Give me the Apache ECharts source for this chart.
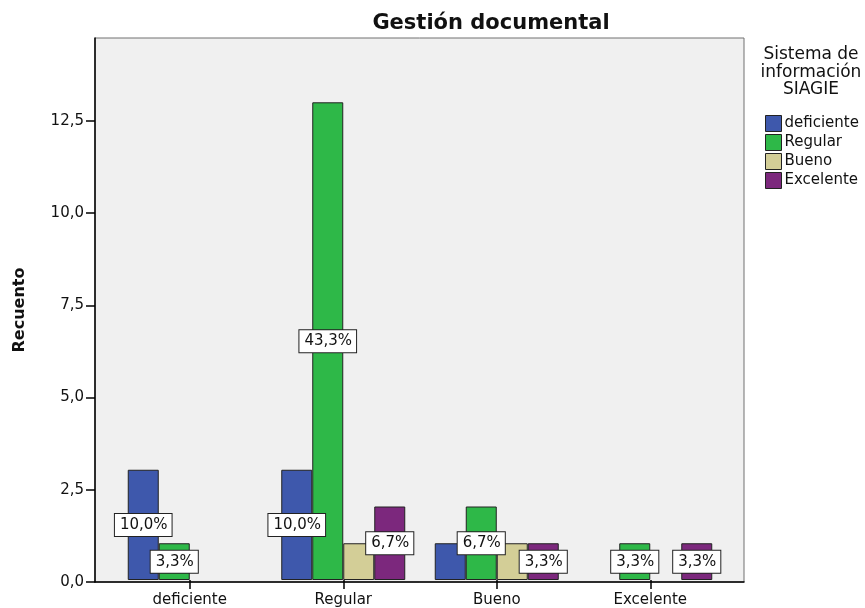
<!DOCTYPE html>
<html>
<head>
<meta charset="utf-8">
<script src="https://cdn.jsdelivr.net/npm/echarts@6/dist/echarts.min.js"></script>
<style>
  html, body { margin: 0; padding: 0; background: #ffffff; }
  #chart { width: 865px; height: 608px; }
</style>
</head>
<body>
<div id="chart"></div>
<script>
// Categories of "Gestión documental" on the x axis
const categories = ['deficiente', 'Regular', 'Bueno', 'Excelente'];

// Levels of "Sistema de información SIAGIE" (one bar series each)
const seriesNames = ['deficiente', 'Regular', 'Bueno', 'Excelente'];

// Counts per category, one array per series
const countsDeficiente = [3, 3, 1, 0];
const countsRegular = [1, 13, 2, 1];
const countsBueno = [0, 1, 1, 0];
const countsExcelente = [0, 2, 1, 1];

// Category indexes whose bar carries a percentage label
const labelledDeficiente = [0, 1];
const labelledRegular = [0, 1, 2, 3];
const labelledBueno = [];
const labelledExcelente = [1, 2, 3];

// Value axis ticks
const yTicks = [0, 2.5, 5, 7.5, 10, 12.5];
const yMax = 14.75;

const seriesCounts = [countsDeficiente, countsRegular, countsBueno, countsExcelente];
const seriesLabelled = [labelledDeficiente, labelledRegular, labelledBueno, labelledExcelente];
const seriesColors = ['#3E58AC', '#2EB848', '#D3CE97', '#7C287D'];

const total = seriesCounts.reduce((s, arr) => s + arr.reduce((a, b) => a + b, 0), 0);
const FONT = 'DejaVu Sans';

function decimalComma(v) {
  return v.toFixed(1).replace('.', ',');
}

const chart = echarts.init(document.getElementById('chart'), null, { renderer: 'canvas' });

const series = seriesNames.map((name, si) => ({
  name: name,
  type: 'bar',
  xAxisIndex: 1,
  yAxisIndex: 1,
  barWidth: 31,
  barGap: '0%',
  itemStyle: { color: seriesColors[si], borderColor: '#222', borderWidth: 1 },
  label: {
    position: 'inside',
    fontFamily: FONT,
    fontSize: 15,
    color: '#111',
    backgroundColor: '#ffffff',
    borderColor: '#222',
    borderWidth: 1,
    padding: [4, 4, 3, 5],
    formatter: p => decimalComma(p.value / total * 100) + '%'
  },
  // empty cells (count 0) draw no bar
  data: seriesCounts[si].map((v, i) => ({
    value: v === 0 ? '-' : v,
    label: { show: seriesLabelled[si].includes(i) }
  }))
}));

chart.setOption({
  animation: false,
  backgroundColor: '#ffffff',
  grid: [
    // Plot frame with the value axis
    { left: 95, right: 121, top: 38, bottom: 26, show: true,
      backgroundColor: '#F0F0F0', borderColor: '#707070', borderWidth: 1 },
    // Bars inset within the frame
    { left: 113, right: 138, top: 38, bottom: 26 }
  ],
  xAxis: [
    { gridIndex: 0, type: 'value', min: 0, max: 1,
      axisLine: { show: true, lineStyle: { color: '#000', width: 1.5 } },
      axisTick: { show: false }, axisLabel: { show: false }, splitLine: { show: false } },
    { gridIndex: 1, type: 'category', data: categories,
      axisLine: { show: false },
      axisTick: { show: true, alignWithLabel: true, length: 9, lineStyle: { color: '#000', width: 1.5 } },
      axisLabel: { fontFamily: FONT, fontSize: 15, color: '#111', margin: 13 } }
  ],
  yAxis: [
    { gridIndex: 0, type: 'value', min: 0, max: yMax,
      axisLine: { show: true, lineStyle: { color: '#000', width: 1.5 } },
      axisTick: { show: true, length: 9, customValues: yTicks, lineStyle: { color: '#000', width: 1.5 } },
      axisLabel: { fontFamily: FONT, fontSize: 15, color: '#111', margin: 11,
        customValues: yTicks, formatter: v => decimalComma(v) },
      splitLine: { show: false } },
    { gridIndex: 1, type: 'value', min: 0, max: yMax, show: false, splitLine: { show: false } }
  ],
  legend: {
    orient: 'vertical',
    left: 760,
    top: 110,
    itemWidth: 16,
    itemHeight: 16,
    itemGap: 2,
    icon: 'rect',
    data: seriesNames,
    itemStyle: { borderColor: '#222', borderWidth: 1 },
    textStyle: { fontFamily: FONT, fontSize: 15, color: '#111', padding: [0, 0, 0, -2] }
  },
  graphic: [
    { type: 'text', x: 491, y: 24,
      style: { text: 'Gestión documental', fontFamily: FONT, fontWeight: 'bold', fontSize: 21,
        fill: '#111', align: 'center', verticalAlign: 'middle' } },
    { type: 'text', x: 20, y: 310, rotation: Math.PI / 2,
      style: { text: 'Recuento', fontFamily: FONT, fontWeight: 'bold', fontSize: 16,
        fill: '#111', align: 'center', verticalAlign: 'middle' } },
    { type: 'text', x: 811, y: 46,
      style: { text: 'Sistema de\ninformación\nSIAGIE', fontFamily: FONT, fontSize: 17,
        lineHeight: 17.5, fill: '#111', align: 'center', verticalAlign: 'top' } }
  ],
  series: series
});
</script>
</body>
</html>
